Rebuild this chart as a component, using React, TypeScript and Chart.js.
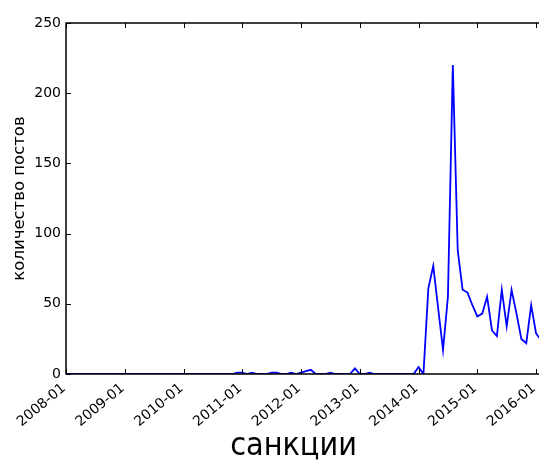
import { useEffect, useRef } from "react";
import { Chart, registerables } from "chart.js";

Chart.register(...registerables);

// Monthly number of posts mentioning "санкции", one array per year.
const START_YEAR = 2008;
const posts2008 = [0, 0, 0, 0, 0, 0, 0, 0, 0, 0, 0, 0];
const posts2009 = [0, 0, 0, 0, 0, 0, 0, 0, 0, 0, 0, 0];
const posts2010 = [0, 0, 0, 0, 0, 0, 0, 0, 0, 0, 0, 1];
const posts2011 = [1, 0, 1, 0, 0, 0, 1, 1, 0, 0, 1, 0];
const posts2012 = [1, 2, 3, 0, 0, 0, 1, 0, 0, 0, 0, 4];
const posts2013 = [0, 0, 1, 0, 0, 0, 0, 0, 0, 0, 0, 0];
const posts2014 = [5, 0, 61, 77, 47, 17, 55, 220, 88, 60, 58, 49];
const posts2015 = [41, 43, 55, 31, 27, 60, 34, 60, 43, 25, 22, 49];
const posts2016 = [29, 24];

const monthlyPosts = [
  ...posts2008, ...posts2009, ...posts2010, ...posts2011, ...posts2012,
  ...posts2013, ...posts2014, ...posts2015, ...posts2016,
];

// "YYYY-MM" label of every month in the series.
const months = monthlyPosts.map(
  (_, i) => `${START_YEAR + Math.floor(i / 12)}-${String((i % 12) + 1).padStart(2, "0")}`
);

const yearTicks = [
  "2008-01", "2009-01", "2010-01", "2011-01", "2012-01",
  "2013-01", "2014-01", "2015-01", "2016-01",
];
const countTicks = [0, 50, 100, 150, 200, 250];

// Visible window in months since 2008-01.
const VIEW_START = "2008-01";
const VIEW_END_MONTHS = 96.6;

const X_LABEL = "санкции";
const Y_LABEL = "количество постов";

const monthIndex = (label: string) => {
  const [y, m] = label.split("-").map(Number);
  return (y - START_YEAR) * 12 + (m - 1);
};

const labelForIndex = (idx: number) =>
  `${START_YEAR + Math.floor(idx / 12)}-${String((idx % 12) + 1).padStart(2, "0")}`;

const FONT = "'DejaVu Sans', sans-serif";
const TICK_LEN = 5;

// Axes frame (left, top, bottom) with inward-pointing tick marks.
const framePlugin = {
  id: "frame",
  afterDatasetsDraw(chart: any) {
    const { ctx, chartArea, scales } = chart;
    const { left, top, right, bottom } = chartArea;
    const x = scales.x;
    const y = scales.y;
    ctx.save();
    ctx.strokeStyle = "#000";
    ctx.lineWidth = 1.5;
    ctx.beginPath();
    ctx.moveTo(right + 2, top);
    ctx.lineTo(left, top);
    ctx.lineTo(left, bottom);
    ctx.lineTo(right + 2, bottom);
    ctx.stroke();

    ctx.lineWidth = 1;
    ctx.beginPath();
    x.ticks.forEach((t: any) => {
      const px = Math.round(x.getPixelForValue(t.value)) + 0.5;
      ctx.moveTo(px, bottom);
      ctx.lineTo(px, bottom - TICK_LEN);
      ctx.moveTo(px, top);
      ctx.lineTo(px, top + TICK_LEN);
    });
    y.ticks.forEach((t: any) => {
      const py = Math.round(y.getPixelForValue(t.value)) + 0.5;
      ctx.moveTo(left, py);
      ctx.lineTo(left + TICK_LEN, py);
    });
    ctx.stroke();
    ctx.restore();
  },
};

export default function App() {
  const canvasRef = useRef<HTMLCanvasElement | null>(null);

  useEffect(() => {
    document.body.style.margin = "0";
    const canvas = canvasRef.current;
    if (!canvas) return;

    const chart = new Chart(canvas, {
      type: "line",
      data: {
        datasets: [
          {
            label: X_LABEL,
            data: monthlyPosts.map((v, i) => ({ x: monthIndex(months[i]), y: v })),
            borderColor: "#0000ff",
            borderWidth: 1.8,
            pointRadius: 0,
            tension: 0,
            fill: false,
          },
        ],
      },
      options: {
        animation: false,
        responsive: false,
        devicePixelRatio: 1,
        // Negative right padding widens the full-width bottom title box,
        // moving the axis label's centre to the right.
        layout: { padding: { top: 23, right: -48, left: 0, bottom: 0 }, autoPadding: false },
        plugins: {
          legend: { display: false },
          tooltip: { enabled: false },
          title: {
            display: true,
            text: X_LABEL,
            position: "bottom",
            color: "#000",
            font: {
              family: "'DejaVu Sans Condensed', 'Liberation Sans Narrow', 'Open Sans', sans-serif",
              size: 32,
              weight: "normal",
            },
            padding: { top: 0, bottom: 2 },
          },
        },
        scales: {
          x: {
            type: "linear",
            min: monthIndex(VIEW_START),
            max: VIEW_END_MONTHS,
            afterBuildTicks: (scale: any) => {
              scale.ticks = yearTicks.map((l) => ({ value: monthIndex(l) }));
            },
            afterFit: (scale: any) => {
              scale.height = 53.6;
              scale.paddingLeft = 0;
              scale.paddingRight = 0;
            },
            grid: { display: false, drawTicks: false },
            border: { display: false },
            ticks: {
              autoSkip: false,
              minRotation: 40,
              maxRotation: 40,
              padding: 6,
              labelOffset: -2,
              color: "#000",
              font: { family: FONT, size: 14 },
              callback: (v: any) => labelForIndex(Number(v)),
            },
          },
          y: {
            min: 0,
            max: 250,
            afterBuildTicks: (scale: any) => {
              scale.ticks = countTicks.map((v) => ({ value: v }));
            },
            afterFit: (scale: any) => {
              scale.width = 66;
              scale.paddingTop = 0;
              scale.paddingBottom = 0;
            },
            grid: { display: false, drawTicks: false },
            border: { display: false },
            ticks: {
              padding: 5,
              color: "#000",
              font: { family: FONT, size: 14 },
            },
            title: {
              display: true,
              text: Y_LABEL,
              color: "#000",
              font: { family: FONT, size: 16.5 },
              padding: { top: 10, bottom: 0 },
            },
          },
        },
      },
      plugins: [framePlugin],
    });

    return () => chart.destroy();
  }, []);

  return <canvas ref={canvasRef} width={539} height={468} style={{ display: "block" }} />;
}
